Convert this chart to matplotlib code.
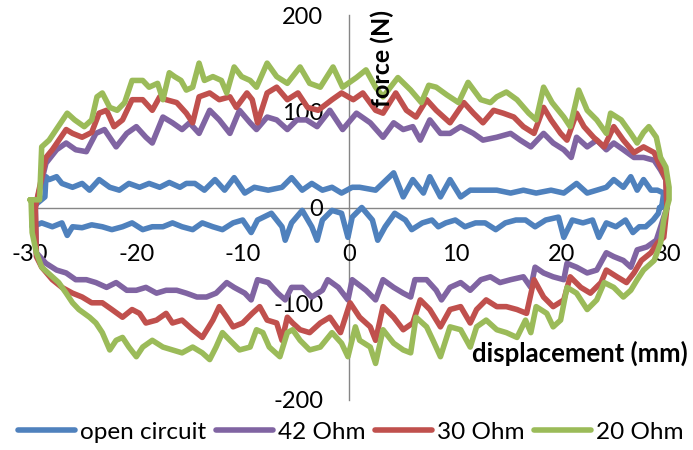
import matplotlib.pyplot as plt

plt.rcParams['font.family'] = ['Lato', 'DejaVu Sans']
plt.rcParams['axes.unicode_minus'] = False

# displacement (mm) / force (N), upper branch left -> right, lower branch left -> right
oc_up_x = [-29.8, -28.6, -28.5, -28.2, -27.5, -27.0, -26.0, -25.1, -24.4, -23.5, -22.5, -21.6,
           -20.7, -19.7, -18.8, -17.8, -16.9, -15.9, -15.3, -14.5, -13.6, -12.6, -11.7, -10.8,
           -9.8, -8.9, -7.6, -6.3, -5.4, -4.4, -3.5, -2.5, -1.6, -0.7, 0.3, 1.0, 2.5, 4.2, 5.1,
           6.0, 7.0, 7.6, 8.6, 9.5, 10.5, 11.4, 12.6, 13.9, 15.2, 16.4, 17.6, 19.0, 20.2, 21.4,
           22.4, 23.3, 24.2, 24.9, 25.8, 26.5, 27.1, 27.7, 28.4, 29.0, 29.6, 29.4]
oc_up_y = [0, 11, 32, 29, 32, 25, 21, 25, 18, 29, 21, 18,
           25, 21, 25, 21, 26, 21, 25, 25, 18, 29, 18, 31,
           15, 21, 18, 21, 31, 18, 25, 18, 21, 15, 21, 21, 18, 36, 11,
           29, 15, 32, 11, 29, 11, 18, 18, 18, 15, 18, 15, 18, 15, 25,
           15, 18, 21, 29, 21, 32, 18, 29, 18, 18, 15, 0]
oc_low_x = [-29.8, -28.9, -27.9, -27.0, -26.5, -26.0, -25.1, -24.2, -23.2, -22.3, -21.3, -20.4,
            -19.4, -18.5, -17.5, -16.6, -15.7, -14.7, -13.8, -12.8, -11.9, -10.9, -10.0, -9.2,
            -8.6, -7.3, -6.3, -6.0, -5.4, -4.4, -3.5, -3.0, -2.5, -1.6, -0.7, -0.1, 0.3, 1.2,
            2.2, 2.7, 3.4, 4.3, 5.3, 5.9, 6.9, 7.8, 8.4, 9.1, 10.0, 10.9, 11.9, 12.8, 13.8,
            14.7, 15.7, 16.6, 17.5, 18.5, 19.7, 20.2, 21.0, 22.0, 22.9, 23.5, 24.2, 25.1, 26.0,
            26.7, 27.3, 27.9, 28.6, 29.1, 29.2]
oc_low_y = [-20, -16, -20, -16, -29, -20, -21, -18, -20, -23, -20, -16,
            -23, -20, -20, -16, -20, -23, -16, -20, -23, -16, -13, -26,
            -13, -6, -20, -34, -16, -3, -20, -34, -13, -3, -6, -31, -10, 0,
            -13, -34, -20, -6, -13, -23, -16, -13, -20, -16, -13, -20, -16, -16, -23,
            -16, -13, -13, -20, -13, -10, -31, -13, -16, -13, -31, -16, -20, -13,
            -26, -20, -20, -13, -6, 0]

r42_up_x = [-29.5, -28.5, -27.5, -26.6, -25.7, -24.7, -23.8, -23.0, -21.9, -20.9, -20.0, -19.1,
            -18.5, -17.5, -16.6, -15.7, -15.0, -14.1, -13.1, -12.2, -11.2, -10.3, -9.3, -8.7,
            -7.7, -6.8, -5.8, -4.9, -4.0, -3.0, -1.8, -0.6, 0.7, 2.0, 3.2, 4.2, 5.1, 6.0, 6.7,
            7.6, 8.6, 9.5, 10.5, 11.7, 12.6, 13.9, 15.2, 16.1, 17.1, 18.3, 19.2, 20.2, 20.9,
            21.4, 22.4, 23.3, 24.2, 24.9, 25.8, 26.8, 27.7, 28.7, 29.3, 29.8, 29.9]
r42_up_y = [0, 46, 60, 67, 60, 58, 77, 81, 63, 77, 84, 73,
            67, 94, 88, 81, 88, 77, 101, 91, 77, 101, 88, 81,
            94, 91, 81, 91, 91, 84, 101, 81, 98, 88, 73, 88, 81, 84, 70,
            91, 77, 77, 84, 77, 70, 73, 77, 70, 63, 77, 67, 60, 52,
            73, 63, 70, 60, 67, 60, 52, 52, 49, 39, 29, 0]
r42_low_x = [-29.4, -28.5, -27.5, -26.6, -25.7, -24.7, -23.8, -22.8, -21.9, -20.9, -20.0, -19.1,
             -18.1, -17.2, -16.2, -15.3, -14.3, -13.4, -12.5, -11.5, -10.8, -9.8, -9.2, -8.6,
             -7.6, -6.7, -6.0, -5.4, -4.4, -3.5, -2.5, -2.0, -1.0, -0.1, 0.3, 1.6, 2.5, 3.2,
             4.2, 5.1, 5.8, 6.2, 7.3, 8.2, 8.7, 9.5, 10.5, 11.4, 12.4, 13.3, 14.2, 15.2, 16.4,
             17.1, 17.5, 18.3, 19.2, 20.2, 20.5, 21.4, 22.4, 23.3, 24.2, 24.9, 25.8, 26.5,
             27.1, 28.0, 28.9]
r42_low_y = [-47, -58, -65, -68, -75, -75, -78, -83, -78, -86, -86, -83,
             -89, -86, -86, -89, -93, -93, -89, -78, -83, -89, -96, -75,
             -78, -89, -96, -83, -83, -93, -86, -75, -83, -96, -75, -86, -96, -75,
             -83, -89, -93, -75, -75, -86, -96, -83, -78, -86, -75, -72, -78, -75, -72,
             -83, -62, -68, -72, -75, -58, -62, -68, -65, -47, -51, -55, -62,
             -44, -41, -34]

r30_up_x = [-29.5, -28.5, -27.9, -27.1, -26.6, -26.0, -25.1, -24.2, -23.5, -22.8, -22.1, -21.3,
            -20.4, -19.4, -18.5, -17.8, -17.2, -16.2, -15.3, -14.7, -14.1, -13.1, -12.2, -11.2,
            -10.6, -9.6, -9.1, -8.6, -7.7, -6.8, -5.8, -4.8, -3.9, -2.9, -1.6, -0.7, 0.4, 1.3,
            2.5, 3.2, 4.4, 5.4, 6.3, 7.3, 8.2, 9.5, 10.8, 11.7, 12.6, 13.6, 14.5, 15.5, 16.4,
            17.4, 18.3, 19.0, 19.9, 20.5, 21.4, 22.1, 23.0, 24.0, 24.9, 25.8, 26.8, 27.7,
            28.7, 29.3, 29.8, 29.9]
r30_up_y = [0, 52, 60, 73, 81, 77, 73, 78, 98, 101, 84, 91,
            112, 112, 101, 115, 112, 109, 98, 88, 115, 119, 112, 115,
            104, 119, 112, 88, 119, 125, 112, 119, 104, 101, 112, 119, 112, 119,
            101, 98, 119, 101, 94, 112, 101, 88, 109, 98, 88, 101, 98, 94, 84,
            77, 104, 91, 77, 70, 98, 84, 73, 63, 84, 70, 57, 63,
            57, 42, 29, 0]
r30_low_x = [-29.4, -28.9, -27.9, -27.0, -26.0, -25.1, -24.2, -23.2, -22.3, -21.3, -20.4, -19.7,
             -19.1, -18.1, -17.2, -16.6, -15.7, -14.7, -13.8, -12.8, -12.2, -11.5, -10.9, -10.0,
             -9.1, -8.4, -7.7, -6.8, -6.3, -5.8, -5.3, -4.6, -3.7, -2.7, -1.8, -0.8, 0.1, 1.0,
             2.0, 2.5, 3.2, 4.2, 5.1, 6.0, 6.7, 7.6, 8.6, 9.5, 10.5, 11.4, 12.0, 12.9, 13.9,
             14.8, 15.8, 16.7, 17.4, 18.3, 19.2, 20.2, 20.8, 21.8, 22.7, 23.7, 24.2, 25.2,
             26.1, 26.8, 27.5, 28.4, 29.0, 29.6]
r30_low_y = [-51, -62, -75, -83, -89, -93, -99, -99, -106, -114, -106, -110,
             -120, -117, -110, -120, -117, -127, -135, -117, -103, -114, -124, -120,
             -110, -103, -117, -120, -138, -114, -120, -127, -130, -120, -114, -130, -99, -114,
             -124, -138, -103, -114, -127, -120, -96, -106, -124, -106, -103, -120, -106, -96, -103,
             -103, -106, -110, -75, -93, -103, -96, -72, -83, -89, -78, -65, -72,
             -78, -68, -55, -47, -37, -31]

r20_up_x = [-30.0, -29.1, -28.9, -28.2, -27.1, -26.5, -25.8, -24.9, -24.2, -23.7, -23.2, -22.5,
            -21.8, -21.1, -20.4, -19.4, -18.8, -18.0, -17.5, -16.9, -16.4, -15.8, -15.3, -14.7,
            -14.1, -13.6, -12.8, -12.0, -11.5, -10.8, -10.1, -9.3, -8.7, -7.7, -6.8, -5.8, -4.6,
            -3.7, -2.7, -1.5, -0.6, 0.7, 1.6, 2.5, 3.2, 4.6, 5.8, 6.8, 7.5, 8.2, 9.2, 10.3,
            11.2, 12.4, 13.3, 13.9, 14.8, 15.8, 16.9, 17.6, 18.3, 19.1, 20.2, 20.8, 21.6, 22.4,
            23.3, 24.2, 24.6, 25.6, 26.5, 27.1, 27.7, 28.2, 28.9, 29.3, 29.8, 30.1, 30.1]
r20_up_y = [8, 8, 63, 70, 88, 98, 91, 84, 91, 115, 119, 104,
            101, 109, 132, 132, 125, 129, 112, 140, 136, 132, 122, 125,
            150, 132, 136, 132, 119, 146, 136, 132, 125, 150, 136, 129, 146,
            129, 125, 146, 125, 135, 143, 125, 115, 135, 122, 109, 127, 125, 117, 109,
            130, 112, 109, 115, 120, 112, 98, 91, 125, 109, 94, 84, 122, 101,
            91, 77, 98, 91, 77, 67, 78, 84, 73, 52, 42, 21, 8]
r20_low_x = [-29.9, -29.8, -29.4, -28.9, -27.9, -27.3, -26.6, -26.0, -25.4, -24.4, -23.8, -23.2,
             -22.5, -21.9, -21.3, -20.7, -20.0, -19.4, -18.5, -17.5, -16.6, -15.7, -14.7, -13.8,
             -13.1, -12.5, -11.9, -11.2, -10.3, -9.3, -8.7, -8.1, -7.5, -6.5, -5.8, -5.3, -4.6,
             -3.7, -2.7, -1.6, -0.7, -0.1, 0.6, 1.0, 2.0, 2.5, 3.2, 4.2, 5.1, 5.8, 6.3, 7.3,
             7.9, 8.6, 9.5, 10.5, 11.4, 12.0, 12.9, 13.9, 14.8, 15.8, 16.6, 17.1, 17.6, 18.6,
             19.2, 19.9, 20.5, 21.4, 22.4, 23.3, 24.0, 24.9, 25.8, 26.5, 27.1, 27.7, 28.7,
             29.3, 29.6, 29.9]
r20_low_y = [8, -26, -47, -62, -72, -78, -89, -99, -106, -114, -120, -130,
             -148, -138, -135, -145, -155, -145, -138, -145, -148, -151, -145, -151,
             -158, -145, -130, -138, -148, -145, -127, -130, -145, -155, -130, -127, -138,
             -148, -145, -130, -141, -155, -124, -138, -145, -162, -127, -141, -148, -151, -114, -124,
             -138, -155, -124, -127, -145, -124, -117, -127, -130, -135, -117, -130, -103, -110,
             -124, -117, -83, -89, -106, -96, -78, -83, -93, -86, -75, -65, -55,
             -37, -13, 0]

labels = ['open circuit', '42 Ohm', '30 Ohm', '20 Ohm']
colors = ['#4F81BD', '#8064A2', '#C0504D', '#9BBB59']
branches = [(oc_up_x, oc_up_y, oc_low_x, oc_low_y),
            (r42_up_x, r42_up_y, r42_low_x, r42_low_y),
            (r30_up_x, r30_up_y, r30_low_x, r30_low_y),
            (r20_up_x, r20_up_y, r20_low_x, r20_low_y)]

fig = plt.figure(figsize=(6.93, 4.5), dpi=100)
ax = fig.add_axes([30/693, 50/450, 638/693, 385/450])

for (ux, uy, lx, ly), lab, col in zip(branches, labels, colors):
    # go along the top branch, then back along the bottom one
    xs = ux + lx[::-1] + [ux[0]]
    ys = uy + ly[::-1] + [uy[0]]
    ax.plot(xs, ys, color=col, lw=4.0, label=lab,
            solid_joinstyle='round', solid_capstyle='round', clip_on=False)

ax.set_xlim(-30, 30)
ax.set_ylim(-200, 200)
ax.set_xticks(range(-30, 31, 10))
ax.set_yticks(range(-200, 201, 100))

for side in ['top', 'right']:
    ax.spines[side].set_visible(False)
ax.spines['left'].set_position(('data', 0))
ax.spines['bottom'].set_position(('data', 0))
for side in ['left', 'bottom']:
    ax.spines[side].set_color('#868686')
    ax.spines[side].set_linewidth(1.0)
    ax.spines[side].set_zorder(0.5)

ax.tick_params(axis='x', length=0, pad=26, labelsize=17)
ax.tick_params(axis='y', length=0, pad=18.5, labelsize=17)
ax.patch.set_visible(False)

ax.text(3.1, 155, 'force (N)', rotation=90, ha='center', va='center',
        fontsize=18, fontweight='bold')
ax.text(31.9, -151, 'displacement (mm)', ha='right', va='center',
        fontsize=18.5, fontweight='bold', clip_on=False)

fig.legend(loc='center', bbox_to_anchor=(351/693, 18/450), ncol=4, frameon=False,
           fontsize=17.5, handlelength=2.35, handletextpad=0.2, columnspacing=0.4,
           borderpad=0, borderaxespad=0)

fig.savefig('out.png', dpi=100)
